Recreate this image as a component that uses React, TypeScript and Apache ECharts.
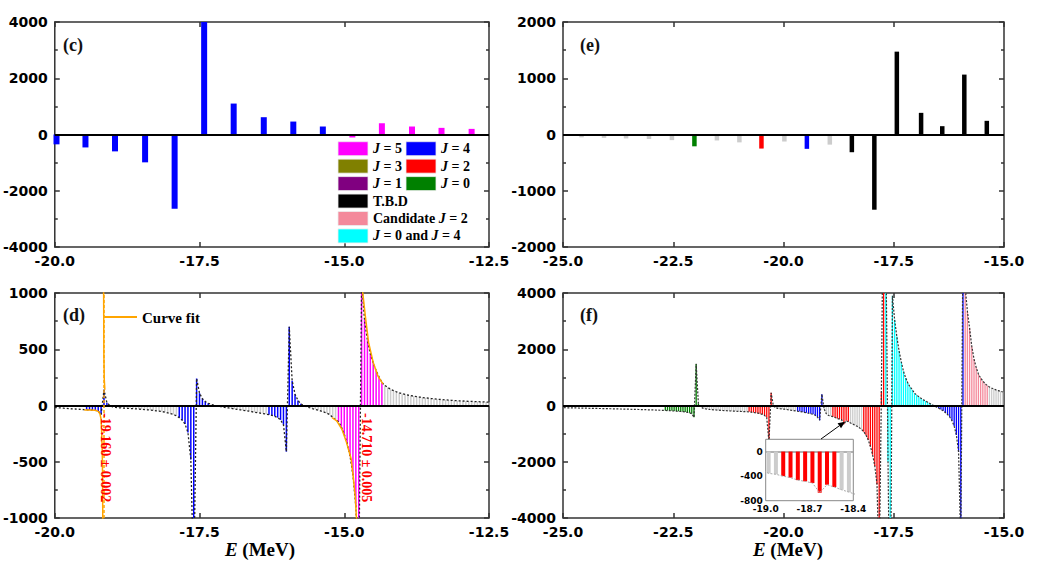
import React, { useEffect, useRef } from 'react';
import * as echarts from 'echarts';

const SANS = "'DejaVu Sans', Arial, sans-serif";
const SERIF = "'Liberation Serif', 'Times New Roman', serif";
const INK = '#333333';

const COLORS: Record<string, string> = {
  J5: '#ff00ff',
  J4: '#0000ff',
  J3: '#808000',
  J2: '#ff0000',
  J1: '#800080',
  J0: '#008000',
  TBD: '#000000',
  C2: '#f4899b',
  J04: '#00ffff',
  grey: '#cccccc',
  none: 'rgba(0,0,0,0)',
};

// (c) levels
const cEnergies = [-19.97, -19.47, -18.96, -18.44, -17.93, -17.42, -16.91, -16.39, -15.88, -15.37, -14.86, -14.35, -13.83, -13.32, -12.8];
const cValues = [-350, -460, -600, -990, -2640, 4000, 1100, 615, 460, 284, -106, 400, 284, 236, 200];
const cKinds = ['J4', 'J4', 'J4', 'J4', 'J4', 'J4', 'J4', 'J4', 'J4', 'J4', 'J5', 'J5', 'J5', 'J5', 'J5'];

// (e) levels
const eEnergies = [-24.58, -24.07, -23.57, -23.05, -22.53, -22.02, -21.51, -21.0, -20.5, -19.98, -19.47, -18.95, -18.45, -17.94, -17.43, -16.88, -16.4, -15.9, -15.39];
const eValues = [-50, -60, -70, -80, -100, -210, -106, -140, -250, -125, -255, -180, -315, -1337, 1473, 385, 148, 1065, 243];
const eKinds = ['grey', 'grey', 'grey', 'grey', 'grey', 'J0', 'grey', 'grey', 'J2', 'grey', 'J4', 'grey', 'TBD', 'TBD', 'TBD', 'TBD', 'TBD', 'TBD', 'TBD'];

// (d) scan, one stick every 0.05 MeV from -20.0
const dStart = -20;
const dStep = 0.05;
const dValues = [
  -18, -20, -22, -24, -26, -28, -30, -31, -33, -35,
  -36, -38, -39, -41, -43, -48, -80, 140, 25, 0,
  -12, -17, -20, -22, -24, -25, -27, -28, -30, -32,
  -34, -36, -38, -41, -44, -47, -50, -54, -59, -65,
  -72, -80, -92, -108, -130, -165, -240, -480, -1600, 240,
  110, 60, 35, 20, 10, 3, -3, -8, -14, -18,
  -22, -26, -30, -34, -38, -42, -46, -50, -55, -60,
  -64, -68, -72, -77, -82, -88, -96, -108, -128, -170,
  -410, 700, 220, 100, 45, 15, 0, -12, -20, -28,
  -35, -42, -50, -58, -68, -82, -105, -125, -145, -190,
  -255, -340, -450, -620, -900, -1600, 1100, 760, 580, 460,
  380, 310, 255, 205, 180, 160, 145, 133, 122, 113,
  105, 99, 93, 88, 83, 79, 75, 71, 68, 65,
  62, 59, 56, 54, 52, 50, 48, 46, 44, 43,
  41, 40, 38, 37, 36, 35, 34, 33, 32, 31,
  30,
];
const dRuns: [string, number][] = [
  ['none', 11], ['J4', 8], ['grey', 24], ['J4', 11], ['grey', 20],
  ['J4', 12], ['grey', 12], ['J5', 16], ['grey', 37],
];

// curve fits around the two J = 5 / J = 4 crossings
const fitPole = -19.16;
const fitBranches: number[][][] = [
  [[-19.49, -39], [-19.4, -40], [-19.3, -42], [-19.25, -52], [-19.22, -75], [-19.2, -122], [-19.19, -240], [-19.18, -420], [-19.175, -600], [-19.17, -1100]],
  [[-19.157, 1100], [-19.152, 450], [-19.145, 230], [-19.135, 140]],
  [[-15.21, -107], [-15.13, -137], [-15.04, -211], [-14.96, -330], [-14.88, -478], [-14.84, -656], [-14.81, -805], [-14.79, -1000], [-14.78, -1150]],
  [[-14.69, 1150], [-14.68, 1000], [-14.63, 768], [-14.58, 561], [-14.5, 383], [-14.42, 264], [-14.33, 190]],
];

// (f) scan, one stick every 0.05 MeV from -24.98
const fStart = -24.98;
const fStep = 0.05;
const fValues = [
  -78, -80, -82, -83, -85, -87, -88, -90, -92, -93,
  -95, -97, -99, -100, -102, -104, -106, -108, -110, -111,
  -113, -115, -117, -119, -121, -123, -125, -127, -129, -131,
  -133, -135, -137, -140, -142, -144, -147, -149, -152, -154,
  -157, -160, -163, -166, -169, -172, -175, -180, -185, -190,
  -195, -200, -206, -213, -220, -230, -242, -260, -290, -420,
  1480, 60, -40, -95, -115, -128, -138, -146, -153, -160,
  -166, -172, -177, -182, -187, -191, -195, -199, -203, -207,
  -211, -215, -219, -222, -226, -236, -248, -260, -273, -290,
  -315, -350, -430, -1300, 450, -10, -80, -100, -112, -122,
  -132, -142, -155, -168, -180, -193, -205, -215, -228, -242,
  -260, -275, -292, -315, -345, -410, -520, 400, -120, -290,
  -355, -370, -400, -425, -465, -485, -512, -670, -540, -578,
  -622, -660, -700, -740, -790, -850, -930, -1050, -1220, -1450,
  -1750, -2150, -2800, -6000, 500, 9000, 6000, -2000, -9000, 3900,
  3050, 2450, 1950, 1560, 1220, 980, 800, 660, 560, 440,
  370, 310, 255, 205, 160, 115, 70, 25, -20, -55,
  -95, -140, -190, -250, -320, -410, -540, -730, -1050, -1650,
  -5000, 6000, 4200, 3350, 2750, 2100, 1650, 1350, 1120, 980,
  870, 780, 710, 660, 620, 585, 555, 530, 505, 485,
];
const fRuns: [string, number][] = [
  ['none', 46], ['J0', 16], ['grey', 22], ['J2', 11], ['grey', 11], ['J4', 12],
  ['grey', 4], ['J2', 8], ['grey', 6], ['J2', 10], ['J04', 22], ['grey', 2],
  ['J4', 12], ['C2', 11], ['grey', 7],
];

// legend of panel (c): [text, colour key, row, column]
const legendItems: [string, string, number, number][] = [
  ['{i|J}{n| = 5}', 'J5', 0, 0],
  ['{i|J}{n| = 4}', 'J4', 0, 1],
  ['{i|J}{n| = 3}', 'J3', 1, 0],
  ['{i|J}{n| = 2}', 'J2', 1, 1],
  ['{i|J}{n| = 1}', 'J1', 2, 0],
  ['{i|J}{n| = 0}', 'J0', 2, 1],
  ['{n|T.B.D}', 'TBD', 3, 0],
  ['{n|Candidate }{i|J}{n| = 2}', 'C2', 4, 0],
  ['{i|J}{n| = 0 and }{i|J}{n| = 4}', 'J04', 5, 0],
];

const expandRuns = (runs: [string, number][]) => {
  const out: string[] = [];
  runs.forEach(([k, n]) => {
    for (let i = 0; i < n; i++) out.push(k);
  });
  return out;
};

const energyAt = (start: number, step: number, i: number) => Math.round((start + i * step) * 1000) / 1000;

const bars = (xs: number[], ys: number[], kinds: string[]) =>
  xs.map((x, i) => ({ value: [x, ys[i]], itemStyle: { color: COLORS[kinds[i]] } }));

const sticks = (start: number, step: number, ys: number[], kinds: string[]) =>
  ys
    .map((v, i) => ({ value: [energyAt(start, step, i), v], itemStyle: { color: COLORS[kinds[i]] }, kind: kinds[i] }))
    .filter((d) => d.kind !== 'none')
    .map(({ value, itemStyle }) => ({ value, itemStyle }));

const curve = (start: number, step: number, ys: number[]) => ys.map((v, i) => [energyAt(start, step, i), v]);

const zeroLine = (color = '#000', width = 2) => ({
  silent: true,
  symbol: ['none', 'none'],
  label: { show: false },
  lineStyle: { color, width, type: 'solid' },
  data: [{ yAxis: 0 }],
});

const tickStyle = { color: INK, width: 1.5 };

const xPair = (gridIndex: number, min: number, max: number) => {
  const base = {
    type: 'value',
    gridIndex,
    min,
    max,
    interval: 2.5,
    splitLine: { show: false },
    axisLine: { show: false, onZero: false },
    axisTick: { show: true, inside: true, length: 5, lineStyle: tickStyle },
  };
  return [
    {
      ...base,
      position: 'bottom',
      axisLabel: {
        fontFamily: SANS,
        fontWeight: 'bold',
        fontSize: 14,
        color: '#000',
        margin: 7,
        formatter: (v: number) => v.toFixed(1),
      },
    },
    { ...base, position: 'top', axisLabel: { show: false } },
  ];
};

const yPair = (gridIndex: number, min: number, max: number, interval: number) => {
  const base = {
    type: 'value',
    gridIndex,
    min,
    max,
    interval,
    splitLine: { show: false },
    axisLine: { show: false, onZero: false },
    axisTick: { show: true, inside: true, length: 5, lineStyle: tickStyle },
    minorTick: { show: true, splitNumber: 2, length: 3, lineStyle: tickStyle },
    minorSplitLine: { show: false },
  };
  return [
    {
      ...base,
      position: 'left',
      axisLabel: {
        fontFamily: SANS,
        fontWeight: 'bold',
        fontSize: 14,
        color: '#000',
        margin: 7,
        formatter: (v: number) => String(v),
      },
    },
    { ...base, position: 'right', axisLabel: { show: false } },
  ];
};

const richStyles = (size: number) => ({
  i: { fontFamily: SERIF, fontWeight: 'bold', fontStyle: 'italic', fontSize: size, fill: '#000', color: '#000' },
  n: { fontFamily: SERIF, fontWeight: 'bold', fontSize: size, fill: '#000', color: '#000' },
});

const panelLabel = (text: string, x: number, y: number) => ({
  type: 'text',
  x,
  y,
  z: 100,
  style: {
    text,
    fill: '#111',
    font: `bold 18px ${SERIF}`,
    align: 'left',
    verticalAlign: 'middle',
  },
});

const App: React.FC = () => {
  const chartRef = useRef<HTMLDivElement>(null);

  useEffect(() => {
    if (!chartRef.current) return;
    const chart = echarts.init(chartRef.current, undefined, { renderer: 'svg' });

    const dKinds = expandRuns(dRuns);
    const fKinds = expandRuns(fRuns);
    const fCurve = curve(fStart, fStep, fValues);
    const insetBars = sticks(fStart, fStep, fValues, fKinds).filter(
      (d) => d.value[0] > -19.02 && d.value[0] < -18.38
    );

    const legendGraphics: any[] = [];
    legendItems.forEach(([text, kind, row, col]) => {
      const y = 148.7 + row * 17.45;
      const sx = col === 0 ? 338 : 406;
      legendGraphics.push({
        type: 'rect',
        z: 100,
        shape: { x: sx, y: y - 7, width: 30, height: 14 },
        style: { fill: COLORS[kind], stroke: '#eeeeee', lineWidth: 0.8 },
      });
      legendGraphics.push({
        type: 'text',
        z: 100,
        x: sx + 35,
        y,
        style: { text, rich: richStyles(14), align: 'left', verticalAlign: 'middle' },
      });
    });

    // arrow from the inset to the region it magnifies
    const a1 = [821, 439];
    const a2 = [845, 421.7];
    const len = Math.hypot(a2[0] - a1[0], a2[1] - a1[1]);
    const ux = (a2[0] - a1[0]) / len;
    const uy = (a2[1] - a1[1]) / len;
    const bx = a2[0] - 7 * ux;
    const by = a2[1] - 7 * uy;

    const option = {
      animation: false,
      backgroundColor: '#fff',
      grid: [
        { left: 48, top: 22, width: 441, height: 225, show: true, borderColor: INK, borderWidth: 1.5 },
        { left: 563, top: 22, width: 441, height: 225, show: true, borderColor: INK, borderWidth: 1.5 },
        { left: 49, top: 293, width: 440, height: 225, show: true, borderColor: INK, borderWidth: 1.5 },
        { left: 563, top: 293, width: 441, height: 225, show: true, borderColor: INK, borderWidth: 1.5 },
        {
          left: 765.7,
          top: 439.3,
          width: 87.6,
          height: 61.4,
          show: true,
          borderColor: '#888',
          borderWidth: 1,
          backgroundColor: '#fff',
          z: 10,
        },
      ],
      xAxis: [
        ...xPair(0, -20, -12.5),
        ...xPair(1, -25, -15),
        ...xPair(2, -20, -12.5),
        ...xPair(3, -25, -15),
        {
          type: 'value',
          gridIndex: 4,
          min: -19.0,
          max: -18.4,
          interval: 0.3,
          z: 10,
          splitLine: { show: false },
          axisLine: { show: false, onZero: false },
          axisTick: { show: false },
          axisLabel: {
            fontFamily: SANS,
            fontWeight: 'bold',
            fontSize: 9,
            color: '#000',
            margin: 4,
            formatter: (v: number) => v.toFixed(1),
          },
        },
      ],
      yAxis: [
        ...yPair(0, -4000, 4000, 2000),
        ...yPair(1, -2000, 2000, 1000),
        ...yPair(2, -1000, 1000, 500),
        ...yPair(3, -4000, 4000, 2000),
        {
          type: 'value',
          gridIndex: 4,
          min: -800,
          max: 200,
          interval: 400,
          z: 10,
          splitLine: { show: false },
          axisLine: { show: false, onZero: false },
          axisTick: { show: false },
          axisLabel: {
            fontFamily: SANS,
            fontWeight: 'bold',
            fontSize: 9,
            color: '#000',
            margin: 3,
            formatter: (v: number) => (v > 0 ? '' : String(v)),
          },
        },
      ],
      series: [
        {
          type: 'bar',
          xAxisIndex: 0,
          yAxisIndex: 0,
          barWidth: 6,
          data: bars(cEnergies, cValues, cKinds),
          markLine: zeroLine(),
        },
        {
          type: 'bar',
          xAxisIndex: 2,
          yAxisIndex: 2,
          barWidth: 4.5,
          data: bars(eEnergies, eValues, eKinds),
          markLine: zeroLine(),
        },
        {
          type: 'bar',
          xAxisIndex: 4,
          yAxisIndex: 4,
          barWidth: 1.5,
          data: sticks(dStart, dStep, dValues, dKinds),
          markLine: zeroLine(),
        },
        {
          type: 'line',
          xAxisIndex: 4,
          yAxisIndex: 4,
          symbol: 'none',
          z: 3,
          lineStyle: { color: '#222', width: 1.3, type: [2, 2] },
          data: curve(dStart, dStep, dValues),
        },
        ...fitBranches.map((branch, bi) => ({
          type: 'line',
          xAxisIndex: 4,
          yAxisIndex: 4,
          symbol: 'none',
          z: 4,
          lineStyle: { color: '#ffa500', width: 1.5 },
          data: branch,
          markLine:
            bi === 0
              ? {
                  silent: true,
                  symbol: ['none', 'none'],
                  label: { show: false },
                  lineStyle: { color: '#ffa500', width: 1.5, type: [3, 2] },
                  data: [{ xAxis: fitPole }],
                }
              : undefined,
        })),
        {
          type: 'bar',
          xAxisIndex: 6,
          yAxisIndex: 6,
          barWidth: 1.3,
          data: sticks(fStart, fStep, fValues, fKinds),
          markLine: zeroLine(),
        },
        {
          type: 'line',
          xAxisIndex: 6,
          yAxisIndex: 6,
          symbol: 'none',
          z: 3,
          lineStyle: { color: '#333', width: 1.2, type: [2, 1.5] },
          data: fCurve,
        },
        {
          type: 'bar',
          xAxisIndex: 8,
          yAxisIndex: 8,
          barWidth: 4,
          z: 11,
          data: insetBars,
          markLine: { ...zeroLine('#999', 1.5), z: 11 },
        },
        {
          type: 'line',
          xAxisIndex: 8,
          yAxisIndex: 8,
          symbol: 'none',
          z: 12,
          lineStyle: { color: '#aaaaaa', width: 1, type: [2, 1.5] },
          data: fCurve,
        },
      ],
      graphic: [
        panelLabel('(c)', 63, 45),
        panelLabel('(e)', 580, 45),
        panelLabel('(d)', 63, 315),
        panelLabel('(f)', 580, 315),
        ...legendGraphics,
        {
          type: 'line',
          z: 100,
          shape: { x1: 103, y1: 317, x2: 137, y2: 317 },
          style: { stroke: '#ffa500', lineWidth: 2 },
        },
        {
          type: 'text',
          z: 100,
          x: 142,
          y: 317.5,
          style: { text: 'Curve fit', fill: '#000', font: `bold 15px ${SERIF}`, align: 'left', verticalAlign: 'middle' },
        },
        {
          type: 'text',
          z: 100,
          x: 105,
          y: 413,
          rotation: -Math.PI / 2,
          style: { text: '-19.160 ± 0.002', fill: '#ff0000', font: `bold 14px ${SERIF}`, align: 'left', verticalAlign: 'middle' },
        },
        {
          type: 'text',
          z: 100,
          x: 366,
          y: 413,
          rotation: -Math.PI / 2,
          style: { text: '-14.710 ± 0.005', fill: '#ff0000', font: `bold 14px ${SERIF}`, align: 'left', verticalAlign: 'middle' },
        },
        {
          type: 'text',
          z: 100,
          x: 260,
          y: 549,
          style: { text: '{i|E}{n| (MeV)}', rich: richStyles(19), align: 'center', verticalAlign: 'middle' },
        },
        {
          type: 'text',
          z: 100,
          x: 788,
          y: 549,
          style: { text: '{i|E}{n| (MeV)}', rich: richStyles(19), align: 'center', verticalAlign: 'middle' },
        },
        {
          type: 'line',
          z: 100,
          shape: { x1: a1[0], y1: a1[1], x2: bx, y2: by },
          style: { stroke: '#000', lineWidth: 1 },
        },
        {
          type: 'polygon',
          z: 100,
          shape: {
            points: [
              [a2[0], a2[1]],
              [bx - 3 * uy, by + 3 * ux],
              [bx + 3 * uy, by - 3 * ux],
            ],
          },
          style: { fill: '#000' },
        },
      ],
    };

    chart.setOption(option as any);

    return () => {
      chart.dispose();
    };
  }, []);

  return (
    <div
      ref={chartRef}
      style={{ position: 'absolute', left: 0, top: 0, width: '1044px', height: '568px' }}
    ></div>
  );
};

export default App;
